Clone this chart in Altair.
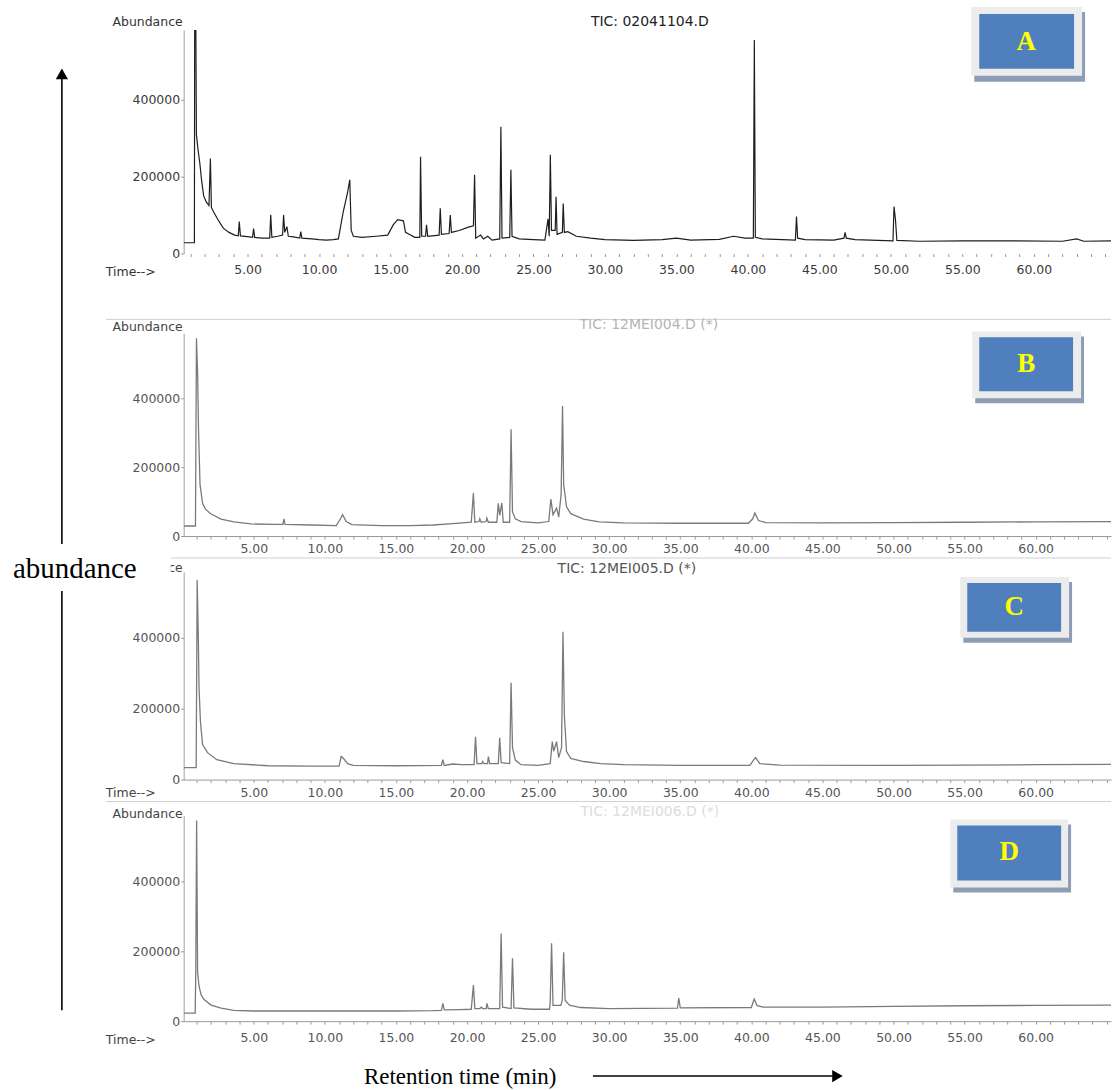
import altair as alt
import pandas as pd

# ---------------- data (time in min, abundance) ----------------
A_POINTS = [(0.53, 28000), (1.28, 28000), (1.30, 600000), (1.38, 600000), (1.42, 310000),
            (1.52, 275000), (1.66, 235000), (1.80, 185000), (1.93, 150000), (2.10, 135000),
            (2.30, 125000), (2.40, 247000), (2.47, 120000), (2.60, 110000), (2.90, 90000),
            (3.30, 66000), (3.70, 55000), (4.10, 48000), (4.35, 46000), (4.42, 83000),
            (4.50, 46000), (5.00, 44000), (5.35, 42000), (5.42, 65000), (5.50, 42000),
            (6.00, 40000), (6.55, 40000), (6.62, 101000), (6.70, 42000), (7.10, 45000),
            (7.45, 48000), (7.52, 100000), (7.60, 55000), (7.75, 70000), (7.85, 45000),
            (8.10, 44000), (8.65, 40000), (8.72, 57000), (8.80, 40000), (9.50, 38000),
            (10.00, 36000), (10.50, 35000), (11.00, 36000), (11.35, 38000), (11.70, 110000),
            (12.00, 160000), (12.15, 192000), (12.25, 60000), (12.40, 45000), (13.00, 42000),
            (14.00, 45000), (14.80, 48000), (15.20, 75000), (15.50, 88000), (15.90, 85000),
            (16.05, 55000), (16.30, 50000), (16.70, 42000), (17.05, 42000), (17.10, 252000),
            (17.18, 45000), (17.45, 45000), (17.52, 75000), (17.60, 45000), (18.40, 48000),
            (18.48, 118000), (18.56, 50000), (19.10, 52000), (19.18, 100000), (19.26, 55000),
            (19.80, 60000), (20.40, 68000), (20.80, 72000), (20.88, 205000), (20.96, 40000),
            (21.30, 48000), (21.50, 38000), (21.80, 45000), (22.10, 35000), (22.64, 38000),
            (22.72, 330000), (22.80, 40000), (23.34, 42000), (23.42, 218000), (23.50, 45000),
            (24.00, 38000), (25.00, 36000), (25.80, 35000), (26.02, 90000), (26.10, 45000),
            (26.18, 257000), (26.26, 60000), (26.52, 60000), (26.58, 148000), (26.65, 50000),
            (27.02, 55000), (27.08, 130000), (27.16, 55000), (27.40, 57000), (28.00, 45000),
            (29.00, 40000), (30.00, 36000), (32.00, 34000), (34.00, 36000), (35.00, 40000),
            (36.00, 35000), (38.00, 37000), (39.00, 45000), (39.80, 40000), (40.38, 40000),
            (40.45, 556000), (40.52, 42000), (41.00, 38000), (43.32, 35000), (43.40, 96000),
            (43.48, 40000), (44.00, 36000), (46.00, 35000), (46.72, 40000), (46.80, 55000),
            (46.88, 40000), (47.50, 36000), (50.15, 33000), (50.22, 122000), (50.32, 90000),
            (50.42, 34000), (52.00, 32000), (55.00, 33000), (58.00, 33000), (62.00, 32000),
            (63.00, 38000), (63.50, 32000), (65.40, 33000)]

B_POINTS = [(0.07, 29000), (0.90, 29000), (0.97, 574000), (1.05, 470000), (1.12, 300000),
            (1.22, 150000), (1.40, 95000), (1.60, 78000), (2.00, 64000), (2.70, 49000),
            (3.60, 41000), (4.80, 35000), (6.50, 34000), (7.05, 34000), (7.12, 50000),
            (7.20, 34000), (9.00, 32000), (10.80, 30000), (11.10, 50000), (11.25, 62000),
            (11.50, 42000), (11.90, 33000), (14.00, 30000), (16.00, 30000), (17.60, 32000),
            (19.00, 36000), (20.30, 40000), (20.45, 125000), (20.55, 40000), (20.85, 42000),
            (20.90, 50000), (21.00, 40000), (21.35, 42000), (21.40, 52000), (21.50, 40000),
            (22.10, 40000), (22.20, 95000), (22.30, 60000), (22.45, 96000), (22.55, 40000),
            (23.00, 40000), (23.10, 310000), (23.20, 70000), (23.40, 50000), (23.80, 42000),
            (25.00, 38000), (25.75, 42000), (25.90, 107000), (26.05, 62000), (26.30, 81000),
            (26.45, 55000), (26.62, 120000), (26.72, 377000), (26.80, 150000), (27.00, 85000),
            (27.30, 65000), (28.20, 49000), (29.30, 41000), (31.00, 38000), (35.00, 37000),
            (39.80, 37000), (40.10, 50000), (40.25, 67000), (40.50, 45000), (41.00, 39000),
            (45.00, 38000), (50.00, 39000), (55.00, 40000), (60.00, 41000), (65.30, 42000)]

C_POINTS = [(0.07, 34000), (0.95, 34000), (1.02, 563000), (1.10, 400000), (1.15, 260000),
            (1.25, 163000), (1.40, 99000), (1.75, 76000), (2.40, 56000), (3.60, 45000),
            (6.00, 39000), (9.00, 38000), (11.00, 38000), (11.15, 65000), (11.30, 60000),
            (11.60, 45000), (12.00, 40000), (15.00, 39000), (18.20, 40000), (18.30, 56000),
            (18.40, 40000), (19.00, 44000), (19.60, 42000), (20.50, 42000), (20.60, 121000),
            (20.70, 45000), (21.05, 45000), (21.10, 51000), (21.20, 45000), (21.45, 45000),
            (21.50, 65000), (21.60, 45000), (22.20, 45000), (22.30, 118000), (22.40, 48000),
            (23.00, 45000), (23.10, 273000), (23.20, 90000), (23.40, 55000), (23.80, 42000),
            (25.00, 40000), (25.85, 45000), (26.00, 107000), (26.10, 80000), (26.30, 107000),
            (26.45, 62000), (26.65, 90000), (26.75, 417000), (26.85, 180000), (27.00, 79000),
            (27.30, 60000), (28.20, 51000), (29.40, 45000), (31.00, 42000), (35.00, 40000),
            (39.90, 40000), (40.15, 55000), (40.30, 62000), (40.60, 45000), (42.00, 41000),
            (50.00, 40000), (55.00, 41000), (60.00, 42000), (65.30, 43000)]

D_POINTS = [(0.07, 23000), (0.88, 23000), (0.92, 135000), (0.98, 574000), (1.05, 140000),
            (1.15, 100000), (1.30, 75000), (1.50, 62000), (2.00, 46000), (2.70, 37000),
            (3.60, 31000), (5.00, 29000), (10.00, 29000), (15.00, 29000), (17.60, 30000),
            (18.20, 31000), (18.30, 51000), (18.40, 32000), (19.50, 33000), (20.30, 34000),
            (20.45, 103000), (20.55, 36000), (20.90, 36000), (21.00, 40000), (21.10, 36000),
            (21.35, 36000), (21.40, 51000), (21.50, 36000), (22.30, 36000), (22.40, 251000),
            (22.50, 40000), (23.10, 36000), (23.20, 180000), (23.30, 38000), (24.50, 34000),
            (25.80, 34000), (25.85, 50000), (25.95, 223000), (26.05, 45000), (26.60, 45000),
            (26.70, 60000), (26.80, 197000), (26.90, 60000), (27.20, 46000), (28.00, 39000),
            (30.00, 36000), (34.80, 37000), (34.90, 66000), (35.00, 38000), (40.00, 39000),
            (40.20, 63000), (40.40, 45000), (40.80, 40000), (45.00, 40000), (50.00, 42000),
            (55.00, 44000), (60.00, 45000), (65.30, 46000)]

TITLES = ["TIC: 02041104.D", "TIC: 12MEI004.D (*)", "TIC: 12MEI005.D (*)", "TIC: 12MEI006.D (*)"]
LETTERS = ["A", "B", "C", "D"]
Y_TICKS = [0, 200000, 400000]
X_TICKS = list(range(1, 66))          # minute ticks, labelled every 5 min
Y_NAME = "Abundance"
TIME_NAME = "Time-->"
BIG_Y_LABEL = "abundance"
BIG_X_LABEL = "Retention time (min)"

# ---------------- helpers ----------------
W = 929
ONE = pd.DataFrame({"k": [0]})
SANS = "DejaVu Sans"
SERIF = "Liberation Serif"
LBL = "datum.value % 5 == 0 && datum.value < 65 ? format(datum.value, '.2f') : ''"


def txt(text, x, y, size=12.5, color="#444", font=SANS, align="left", weight="normal"):
    return alt.Chart(ONE).mark_text(
        text=text, fontSize=size, color=color, font=font, align=align,
        baseline="middle", fontWeight=weight
    ).encode(x=alt.value(x), y=alt.value(y))


def rect(x1, x2, y1, y2, color):
    return alt.Chart(ONE).mark_rect(color=color).encode(
        x=alt.value(x1), x2=alt.value(x2), y=alt.value(y1), y2=alt.value(y2))


def rule(x1, x2, y1, y2, color, width):
    return alt.Chart(ONE).mark_rule(color=color, strokeWidth=width).encode(
        x=alt.value(x1), x2=alt.value(x2), y=alt.value(y1), y2=alt.value(y2))


def box(frame, shadow, blue, letter, letter_xy):
    return [
        rect(*shadow, "#8d9db5"),
        rect(*frame, "#ececec"),
        rect(*blue, "#4f7fbd"),
        txt(letter, letter_xy[0], letter_xy[1], size=27, color="#ffff00", font=SERIF,
            align="center", weight="bold"),
    ]


def panel(points, dom, height, ymax, line_color, lab_color, line_w, x_pad, x_domain):
    df = pd.DataFrame(points, columns=["t", "v"])
    xaxis = alt.Axis(values=X_TICKS, labelExpr=LBL, tickSize=3, tickColor="#999",
                     labelFont=SANS, labelFontSize=12.5, labelColor=lab_color,
                     labelBaseline="middle", labelPadding=x_pad, labelFlush=False,
                     labelOverlap=False, domain=x_domain, domainColor="#9a9a9a",
                     grid=False, labelAngle=0)
    yaxis = alt.Axis(values=Y_TICKS, format="d", tickSize=3, tickColor="#999",
                     labelFont=SANS, labelFontSize=12.5, labelColor=lab_color,
                     labelPadding=1, domainColor="#a0a0a0", grid=False)
    return alt.Chart(df).mark_line(clip=True, color=line_color, strokeWidth=line_w).encode(
        x=alt.X("t:Q", scale=alt.Scale(domain=dom, nice=False, zero=False), axis=xaxis, title=None),
        y=alt.Y("v:Q", scale=alt.Scale(domain=[0, ymax], nice=False, zero=True), axis=yaxis, title=None),
    )


# ---------------- panel A ----------------
hA = 224
pA = alt.layer(
    panel(A_POINTS, [0.53, 65.4], hA, 582000, "#1e1e1e", "#3a3a3a", 1.2, 13, False),
    txt(TITLES[0], 467, -8, size=14, color="#222", align="center"),
    txt(Y_NAME, -1, -8, color="#333", align="right"),
    txt(TIME_NAME, -78, 243, color="#333"),
    *box((789, 900, -23, 46), (792, 903, -18, 52), (797, 892, -16, 39), LETTERS[0], (844, 12)),
).properties(width=W, height=hA)

spacer = alt.Chart(ONE).mark_text(text="").encode(x=alt.value(0), y=alt.value(0)).properties(width=W, height=8)

# ---------------- panel B ----------------
hB = 203
pB = alt.layer(
    rule(-78, W, -14, -14, "#d0d0d0", 1),
    rule(-78, W, 225, 225, "#d0d0d0", 1),
    panel(B_POINTS, [0.07, 65.3], hB, 588000, "#7a7a7a", "#555", 1.3, 10, True),
    txt(TITLES[1], 466, -8, size=14, color="#b4b4b4", align="center"),
    txt(Y_NAME, -1, -6, color="#444", align="right"),
    *box((790, 899, -2, 65), (793, 902, 3, 70), (797, 891, 4, 58), LETTERS[1], (844, 31)),
).properties(width=W, height=hB)

# ---------------- panel C ----------------
hC = 208
pC = alt.layer(
    rule(-78, W, 230, 230, "#d0d0d0", 1),
    panel(C_POINTS, [0.07, 65.3], hC, 586000, "#7a7a7a", "#555", 1.3, 10, True),
    txt(TITLES[2], 444, -3, size=14, color="#555", align="center"),
    txt(Y_NAME, -1, -4, color="#444", align="right"),
    txt(TIME_NAME, -78, 221, color="#444"),
    *box((778, 887, 5, 66), (781, 890, 10, 71), (785, 879, 11, 60), LETTERS[2], (832, 35)),
).properties(width=W, height=hC)

# ---------------- panel D + global annotations ----------------
hD = 206
pD = alt.layer(
    panel(D_POINTS, [0.07, 65.3], hD, 588500, "#7a7a7a", "#555", 1.3, 13, True),
    txt(TITLES[3], 467, -4, size=14, color="#dcdcdc", align="center"),
    txt(Y_NAME, -1, -2, color="#444", align="right"),
    txt(TIME_NAME, -78, 225, color="#444"),
    *box((768, 886, 4, 72), (771, 889, 9, 77), (775, 879, 10, 65), LETTERS[3], (827, 37)),
    # vertical "abundance" arrow spanning all panels
    rule(-122, -122, -742, 195, "#000", 1.6),
    alt.Chart(ONE).mark_point(shape="triangle-up", filled=True, color="#000", size=150, opacity=1).encode(
        x=alt.value(-122), y=alt.value(-743)),
    rect(-183, -13, -272, -225, "#ffffff"),
    txt(BIG_Y_LABEL, -171, -247, size=29, color="#000", font=SERIF),
    # horizontal retention-time arrow
    rule(410, 650, 261, 261, "#000", 1.6),
    alt.Chart(ONE).mark_point(shape="triangle-right", filled=True, color="#000", size=150, opacity=1).encode(
        x=alt.value(655), y=alt.value(261)),
    txt(BIG_X_LABEL, 277, 262, size=23, color="#000", font=SERIF, align="center"),
).properties(width=W, height=hD)

chart = alt.vconcat(pA, spacer, pB, pC, pD, spacing=36, bounds="flush").properties(
    padding={"left": 0, "top": 5, "right": 0, "bottom": 0},
    background="white",
).configure_view(stroke="transparent")

chart.save("out.html", embed_options={"renderer": "svg", "actions": False})
